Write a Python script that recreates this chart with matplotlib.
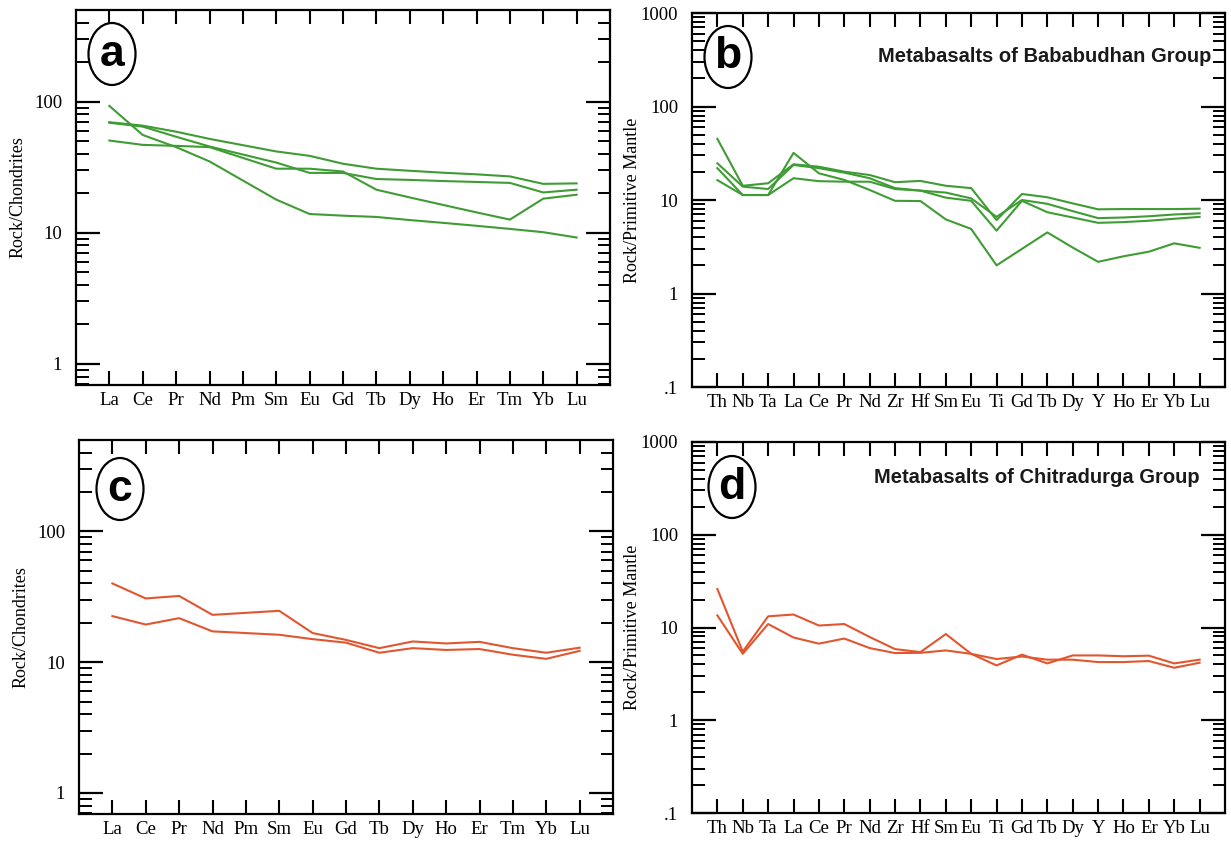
import numpy as np
import matplotlib
matplotlib.use("Agg")
import matplotlib.pyplot as plt
from matplotlib.patches import Ellipse
from matplotlib.ticker import LogLocator, FixedFormatter, FixedLocator, NullFormatter

# --- data -----------------------------------------------------------------
ree = ["La", "Ce", "Pr", "Nd", "Pm", "Sm", "Eu", "Gd", "Tb", "Dy", "Ho", "Er", "Tm", "Yb", "Lu"]
spider = ["Th", "Nb", "Ta", "La", "Ce", "Pr", "Nd", "Zr", "Hf", "Sm", "Eu", "Ti",
          "Gd", "Tb", "Dy", "Y", "Ho", "Er", "Yb", "Lu"]
nan = np.nan

# (a) Bababudhan, chondrite normalised
bab_ree_1 = [92.7, 55.7, 45.0, 35.0, nan, 17.9, 13.9, 13.5, 13.2, 12.5, 11.9, 11.3, 10.7, 10.1, 9.2]
bab_ree_2 = [69.7, 65.6, 59.0, 52.0, nan, 41.7, 38.6, 33.6, 30.8, 29.7, 28.7, 27.9, 26.9, 23.6, 23.8]
bab_ree_3 = [69.0, 64.5, 54.0, 45.5, nan, 34.3, 28.6, 28.6, 25.7, 25.3, 24.8, 24.4, 24.0, 20.3, 21.3]
bab_ree_4 = [50.5, 46.8, 46.0, 45.0, nan, 30.8, 30.8, 29.3, 21.3, 18.6, 16.3, 14.3, 12.6, 18.2, 19.5]

# (b) Bababudhan, primitive mantle normalised
bab_pm_1 = [45.1, 14.2, 15.1, 24.1, 22.7, 20.1, 18.5, 15.5, 16.0, 14.2, 13.4, 6.1, 11.6, 10.7, 9.2, 7.95, 8.0, 8.0, 8.0, 8.07]
bab_pm_2 = [24.7, 13.9, 13.1, 23.7, 21.9, 19.6, 17.1, 13.4, 12.6, 12.0, 10.4, 6.6, 10.0, 9.1, 7.6, 6.4, 6.5, 6.7, 7.0, 7.2]
bab_pm_3 = [21.9, 11.3, 11.3, 17.1, 15.9, 15.7, 15.7, 13.1, 12.6, 10.6, 9.8, 4.7, 9.8, 7.4, 6.5, 5.7, 5.8, 6.0, 6.3, 6.6]
bab_pm_4 = [16.3, 11.3, 11.3, 31.9, 19.3, 16.4, 12.8, 9.8, 9.75, 6.2, 4.9, 2.0, 3.0, 4.5, 3.1, 2.18, 2.5, 2.8, 3.44, 3.08]

# (c) Chitradurga, chondrite normalised
chi_ree_1 = [40.0, 30.7, 32.1, 23.0, nan, 24.7, 16.7, 14.8, 12.8, 14.4, 13.9, 14.3, 12.8, 11.8, 12.9]
chi_ree_2 = [22.5, 19.4, 21.7, 17.2, nan, 16.2, 15.0, 14.1, 11.8, 12.8, 12.4, 12.6, 11.4, 10.6, 12.2]

# (d) Chitradurga, primitive mantle normalised
chi_pm_1 = [26.0, 5.5, 13.2, 13.8, 10.5, 10.9, 7.9, 5.85, 5.43, 8.5, 5.2, 3.9, 5.1, 4.1, 5.0, 5.0, 4.9, 4.97, 4.1, 4.5]
chi_pm_2 = [13.5, 5.2, 10.9, 7.8, 6.7, 7.6, 6.0, 5.3, 5.33, 5.66, 5.2, 4.57, 4.87, 4.5, 4.5, 4.24, 4.24, 4.35, 3.68, 4.17]

green = "#3f9c34"
red = "#e2562f"

W, H = 1231, 846
fig = plt.figure(figsize=(W / 100, H / 100), dpi=100)

serif = "Liberation Serif"
sans = "Liberation Sans"


def make_axes(l, r, t, b):
    return fig.add_axes([l / W, (H - b) / H, (r - l) / W, (b - t) / H])


def style(ax, labels, ylim, yticks, ylabels, ylab, labx):
    n = len(labels)
    ax.set_yscale("log")
    ax.set_xlim(-1, n)
    ax.set_ylim(*ylim)
    ax.xaxis.set_major_locator(FixedLocator(np.arange(n)))
    ax.set_xticklabels(labels, fontfamily=serif, fontsize=13.5)
    ax.yaxis.set_major_locator(FixedLocator(yticks))
    ax.yaxis.set_major_formatter(FixedFormatter(ylabels))
    ax.yaxis.set_minor_locator(LogLocator(base=10, subs=np.arange(2, 10), numticks=20))
    ax.yaxis.set_minor_formatter(NullFormatter())
    for lab in ax.get_yticklabels():
        lab.set_fontfamily(serif)
        lab.set_fontsize(13.5)
    ax.tick_params(axis="x", which="major", direction="in", length=10, width=1.5,
                   top=True, bottom=True, pad=5)
    ax.tick_params(axis="y", which="major", direction="in", length=17, width=1.6,
                   left=True, right=True, pad=10)
    ax.tick_params(axis="y", which="minor", direction="in", length=9, width=1.4,
                   left=True, right=True)
    for s in ax.spines.values():
        s.set_linewidth(1.6)
    ax.set_ylabel(ylab, fontfamily=serif, fontsize=13)
    ax.yaxis.set_label_coords(labx, 0.5)


def draw(ax, series, color):
    x = np.arange(len(series[0]))
    for s in series:
        y = np.array(s, dtype=float)
        m = np.isfinite(y)
        ax.plot(x[m], y[m], color=color, lw=1.5)


def badge(letter, cx, cy):
    # cx, cy in pixels from the top-left corner of the figure
    ell = Ellipse((cx / W, 1 - cy / H), 47 / W, 62 / H, transform=fig.transFigure,
                  fill=False, lw=1.6, ec="black")
    fig.add_artist(ell)
    fig.text(cx / W, 1 - cy / H, letter, ha="center", va="center", fontsize=32,
             fontweight="bold", fontfamily=sans)


ree_ticks = [1, 10, 100]
ree_tl = ["1", "10", "100"]
pm_ticks = [0.1, 1, 10, 100, 1000]
pm_tl = [".1", "1", "10", "100", "1000"]

ax_a = make_axes(76, 610, 10, 385)
draw(ax_a, [bab_ree_1, bab_ree_2, bab_ree_3, bab_ree_4], green)
style(ax_a, ree, (0.69, 500), ree_ticks, ree_tl, "Rock/Chondrites", -0.092)

ax_b = make_axes(692, 1225, 13, 387)
draw(ax_b, [bab_pm_1, bab_pm_2, bab_pm_3, bab_pm_4], green)
style(ax_b, spider, (0.1, 1000), pm_ticks, pm_tl, "Rock/Primitive Mantle", -0.096)

ax_c = make_axes(79, 613, 440, 814)
draw(ax_c, [chi_ree_1, chi_ree_2], red)
style(ax_c, ree, (0.69, 500), ree_ticks, ree_tl, "Rock/Chondrites", -0.092)

ax_d = make_axes(692, 1225, 442, 813)
draw(ax_d, [chi_pm_1, chi_pm_2], red)
style(ax_d, spider, (0.1, 1000), pm_ticks, pm_tl, "Rock/Primitive Mantle", -0.096)

badge("a", 112, 54)
badge("b", 728, 57)
badge("c", 120, 489)
badge("d", 732, 487)

fig.text(1211 / W, 1 - 62 / H, "Metabasalts of Bababudhan Group", ha="right", va="baseline",
         fontsize=14.5, fontweight="bold", fontfamily=sans, color="#1a1a1a")
fig.text(1200 / W, 1 - 483 / H, "Metabasalts of Chitradurga Group", ha="right", va="baseline",
         fontsize=14.5, fontweight="bold", fontfamily=sans, color="#1a1a1a")

fig.savefig("out.png", dpi=100)
